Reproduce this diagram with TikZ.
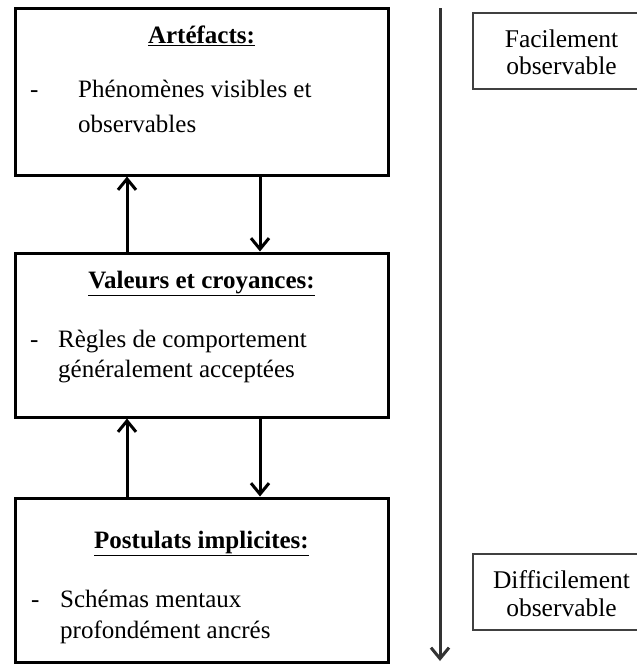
\documentclass[tikz,border=0pt]{standalone}
\usepackage{fontspec}
\setmainfont{Liberation Serif}
\usetikzlibrary{arrows.meta}

\tikzset{
  layer/.style={draw=black, line width=3pt, inner sep=0pt, minimum width=373pt},
  tagbox/.style={draw=black!75, line width=1.6pt, inner sep=0pt, minimum width=176pt},
  link/.style={draw=black, line width=3pt,
    -{Straight Barb[length=11pt,width=18pt,line width=3pt]}},
  depth/.style={draw=black!80, line width=3pt,
    -{Straight Barb[length=11pt,width=18pt,line width=3pt]}},
  heading/.style={anchor=base, inner sep=0pt, font=\fontsize{25}{30}\selectfont\bfseries},
  bodytext/.style={anchor=base west, inner sep=0pt, font=\fontsize{25}{30}\selectfont},
  tagtext/.style={anchor=base, inner sep=0pt, font=\fontsize{25.5}{30}\selectfont},
}

\begin{document}
\begin{tikzpicture}[x=1pt, y=-1pt]
  \useasboundingbox (0,0) rectangle (637,664);
  \fill[white] (0,0) rectangle (637,664);

  % the three levels
  \node[layer, minimum height=167pt] (art) at (201.5,91.5) {};
  \node[layer, minimum height=164pt] (val) at (201.5,335) {};
  \node[layer, minimum height=164pt] (pos) at (201.5,580) {};

  % level texts
  \node[heading] (artH) at (201.5,43) {\underline{Artéfacts:}};
  \node[bodytext] (artD) at (30,97) {-};
  \node[bodytext] (artL1) at (78,97) {Phénomènes visibles et};
  \node[bodytext] (artL2) at (78,132) {observables};

  \node[heading] (valH) at (201.5,288) {\underline{Valeurs et croyances:}};
  \node[bodytext] (valD) at (30,347) {-};
  \node[bodytext] (valL1) at (58,347) {Règles de comportement};
  \node[bodytext] (valL2) at (58,377) {généralement acceptées};

  \node[heading] (posH) at (201.5,548) {\underline{Postulats implicites:}};
  \node[bodytext] (posD) at (31,607) {-};
  \node[bodytext] (posL1) at (60,607) {Schémas mentaux};
  \node[bodytext] (posL2) at (60,638) {profondément ancrés};

  % links between the levels
  \coordinate (upx) at (127,0);
  \coordinate (downx) at (260,0);
  \draw[link] (val.north -| upx) -- (art.south -| upx);
  \draw[link] (art.south -| downx) -- (val.north -| downx);
  \draw[link] (pos.north -| upx) -- (val.south -| upx);
  \draw[link] (val.south -| downx) -- (pos.north -| downx);

  % depth scale
  \coordinate (top) at (440,8);
  \coordinate (bottom) at (440,661);
  \draw[depth] (top) -- (bottom);

  \node[tagbox, minimum height=76pt] (easy) at (561,51) {};
  \node[tagtext] (easy1) at (561.5,47) {Facilement};
  \node[tagtext] (easy2) at (561.5,74) {observable};

  \node[tagbox, minimum height=76pt] (hard) at (561,592) {};
  \node[tagtext] (hard1) at (561.5,588) {Difficilement};
  \node[tagtext] (hard2) at (561.5,616) {observable};
\end{tikzpicture}
\end{document}
